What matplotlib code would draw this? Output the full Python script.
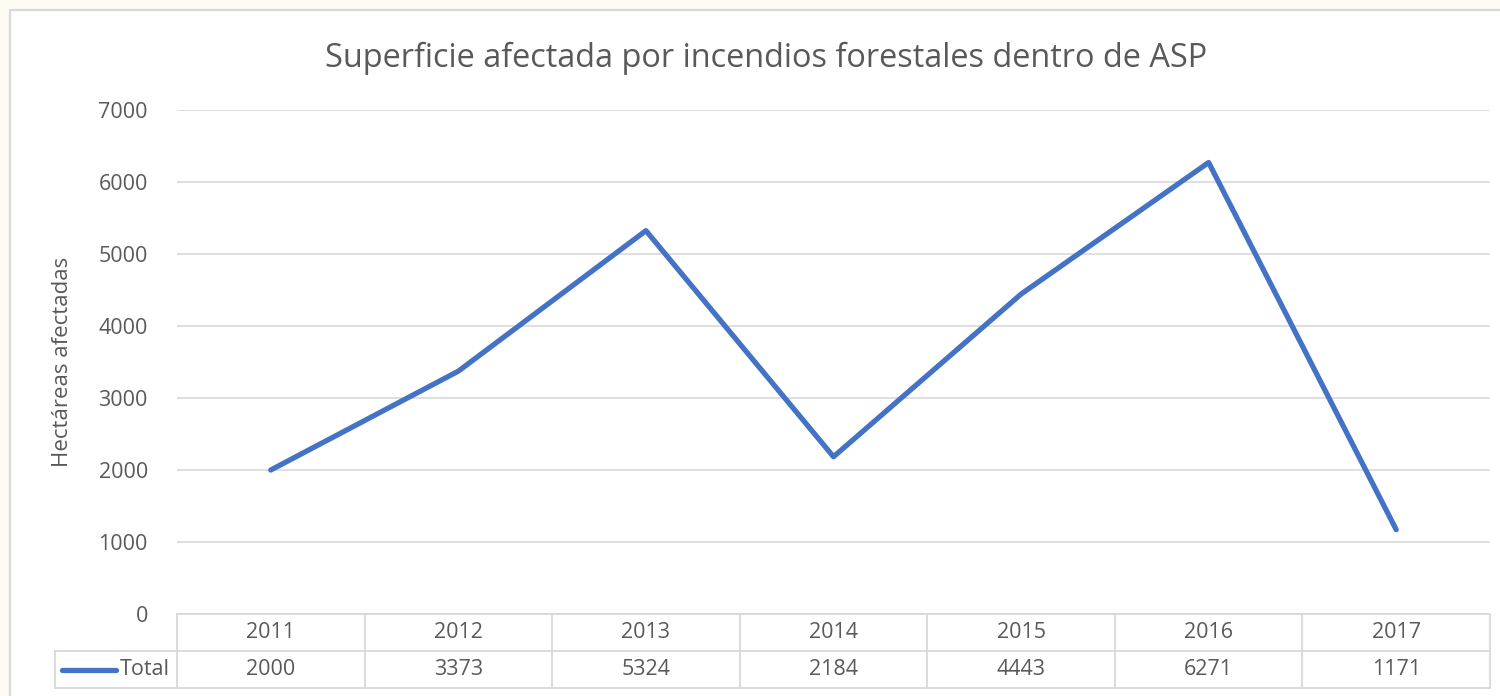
import matplotlib.pyplot as plt
import matplotlib.transforms as mtransforms
from matplotlib.patches import Rectangle
from matplotlib.lines import Line2D

years = ["2011", "2012", "2013", "2014", "2015", "2016", "2017"]
total = [2000, 3373, 5324, 2184, 4443, 6271, 1171]
y_ticks = [0, 1000, 2000, 3000, 4000, 5000, 6000, 7000]

LINE_COLOR = "#4472C4"
TEXT_COLOR = "#595959"
GRID_COLOR = "#D9D9D9"
FS = 15.5

plt.rcParams['font.family'] = ['Open Sans', 'DejaVu Sans']

fig = plt.figure(figsize=(15, 6.96), dpi=100)
fig.patch.set_facecolor("#FDFBF3")

W, H = 1500, 696

# white chart area with a light border
fig.patches.append(Rectangle((10 / W, -0.05), 1.05, 1 - 10 / H + 0.05,
                             transform=fig.transFigure, facecolor="white",
                             edgecolor=GRID_COLOR, linewidth=1.6, zorder=-5))

left, right = 177 / W, 1490 / W
top, bottom = 1 - 110 / H, 1 - 614 / H
ax = fig.add_axes([left, bottom, right - left, top - bottom])
ax.set_facecolor("none")

x = list(range(len(years)))
ax.plot(x, total, color=LINE_COLOR, linewidth=3.8, solid_capstyle="round", zorder=3)

ax.set_xlim(-0.5, len(years) - 0.5)
ax.set_ylim(0, 7000)
ax.set_yticks(y_ticks)
ax.set_yticklabels([str(v) for v in y_ticks])
ax.set_xticks([])
ax.tick_params(axis="y", length=0, pad=21, labelsize=FS, labelcolor=TEXT_COLOR)
ax.grid(axis="y", color=GRID_COLOR, linewidth=1.2)
for s in ax.spines.values():
    s.set_visible(False)

ax.set_ylabel("Hectáreas afectadas", fontsize=16, color=TEXT_COLOR, labelpad=18)
fig.text(766 / W, 1 - 58 / H,
         "Superficie afectada por incendios forestales dentro de ASP",
         ha="center", va="center", fontsize=23.4, color=TEXT_COLOR)

# data table under the plot (x in data units, y in axes fraction)
row_h = 37 / (614 - 110)
trans = mtransforms.blended_transform_factory(ax.transData, ax.transAxes)
xmin, xmax = -0.5, len(years) - 0.5
unit = (1490 - 177) / len(years)
legend_left = xmin - (177 - 55) / unit

def tline(xs, ys):
    ax.add_line(Line2D(xs, ys, transform=trans, color=GRID_COLOR,
                       linewidth=1.3, clip_on=False))

tline([xmin, xmax], [0, 0])
tline([legend_left, xmax], [-row_h, -row_h])
tline([legend_left, xmax], [-2 * row_h, -2 * row_h])
tline([legend_left, legend_left], [-row_h, -2 * row_h])
for i in range(len(years) + 1):
    tline([xmin + i, xmin + i], [0, -2 * row_h])

for i, (yr, v) in enumerate(zip(years, total)):
    ax.text(i, -0.5 * row_h, yr, transform=trans, ha="center", va="center",
            fontsize=FS, color=TEXT_COLOR)
    ax.text(i, -1.5 * row_h, str(v), transform=trans, ha="center", va="center",
            fontsize=FS, color=TEXT_COLOR)

# legend key inside the table
ax.add_line(Line2D([xmin - (177 - 62) / unit, xmin - (177 - 116) / unit],
                   [-1.5 * row_h, -1.5 * row_h], transform=trans,
                   color=LINE_COLOR, linewidth=3.8, solid_capstyle="round",
                   clip_on=False))
ax.text(xmin - (177 - 170) / unit, -1.5 * row_h, "Total", transform=trans,
        ha="right", va="center", fontsize=FS, color=TEXT_COLOR)

fig.savefig("out.png", dpi=100)
